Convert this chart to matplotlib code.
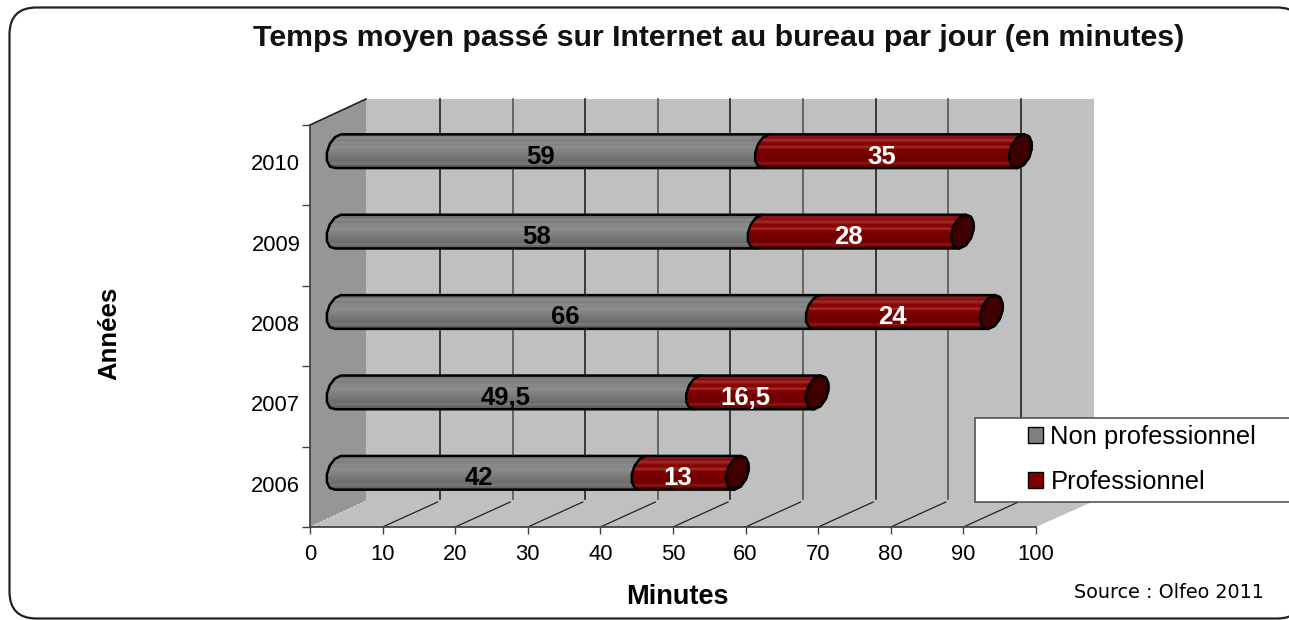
import matplotlib
matplotlib.use("Agg")
import matplotlib.pyplot as plt
import numpy as np
from matplotlib.patches import FancyBboxPatch, Patch, PathPatch, Polygon, Rectangle
from matplotlib.path import Path
from matplotlib.transforms import Affine2D, ScaledTranslation

plt.rcParams["font.family"] = "Liberation Sans"

years = ["2006", "2007", "2008", "2009", "2010"]
non_pro = [42, 49.5, 66, 58, 59]
pro = [13, 16.5, 24, 28, 35]
non_pro_labels = ["42", "49,5", "66", "58", "59"]
pro_labels = ["13", "16,5", "24", "28", "35"]
x_ticks = [0, 10, 20, 30, 40, 50, 60, 70, 80, 90, 100]

W, H = 1289, 620
# front plane of the fake 3d box, in pixels
LEFT, RIGHT, TOP, BOTTOM = 310, 1036, 125, 527
DEPTH_X, DEPTH_Y = 56, 26

fig = plt.figure(figsize=(W / 100, H / 100), dpi=100)
px = Affine2D().scale(1 / W, -1 / H).translate(0, 1) + fig.transFigure
ax = fig.add_axes([LEFT / W, 1 - BOTTOM / H, (RIGHT - LEFT) / W, (BOTTOM - TOP) / H])
ax.set_xlim(0, 100)
ax.set_ylim(0, len(years))
ax.patch.set_visible(False)

ux = 100 / (RIGHT - LEFT)
uy = len(years) / (BOTTOM - TOP)
dx, dy = DEPTH_X * ux, DEPTH_Y * uy
n = len(years)

# outer rounded border
fig.add_artist(FancyBboxPatch((9.5, 7.5), 1294.5, 611, boxstyle="round,pad=0,rounding_size=27",
                              transform=px, fc="white", ec="#222222", lw=1.6, zorder=-4))

# walls and floor
ax.add_patch(Polygon([(0, 0), (100, 0), (100 + dx + 0.3, dy), (dx, dy)], fc="#c0c0c0", ec="none", clip_on=False, zorder=1))
ax.add_patch(Rectangle((dx, dy), 100.3, n, fc="#c0c0c0", ec="none", clip_on=False, zorder=1))
ax.add_patch(Polygon([(0, 0), (dx, dy), (dx, n + dy), (0, n)], fc="#969696", ec="none", clip_on=False, zorder=1.1))
ax.plot([0, dx], [n, n + dy], color="#222222", lw=1.2, clip_on=False, zorder=2)
ax.plot([0, dx], [0, dy], color="#d8d8d8", lw=1, ls=":", clip_on=False, zorder=2)

# grid
for i, v in enumerate(x_ticks[1:-1]):
    col = "#222222" if i % 2 == 0 else "#555555"
    ax.plot([v + dx + 0.2, v + dx + 0.2], [dy + 2 * uy, n + dy], color=col, lw=1.2, clip_on=False, zorder=2)
    ax.plot([v, v + dx - 1 * ux], [0, dy - 1 * uy], color="#222222", lw=0.9, clip_on=False, zorder=2)


def cap_points(xc, yc, t):
    # section of the cylinder seen obliquely, given in pixels
    px_x = 11.5 * np.cos(t)
    px_y = 5.5 * np.cos(t) + 16 * np.sin(t)
    return np.column_stack([xc + px_x * ux, yc + px_y * uy])


def bar_outline(x0, x1, yc):
    t_left = np.linspace(np.pi * 0.42, np.pi * 1.42, 7)
    t_right = np.linspace(-np.pi * 0.58, np.pi * 0.42, 7)
    return np.vstack([cap_points(x0, yc, t_left), cap_points(x1, yc, t_right)])


def draw_bar(x0, x1, yc, shades, cap_col, z):
    xc0, xc1 = x0 + dx / 2, x1 + dx / 2
    yy = yc + dy / 2 + 1 * uy
    pts = bar_outline(xc0, xc1, yy)
    path = Path(np.vstack([pts, pts[:1]]), closed=True)
    half = 18 * uy
    im = ax.imshow(np.array(shades)[:, None, :], extent=(xc0 - 14 * ux, xc1 + 14 * ux, yy - half, yy + half),
                   aspect="auto", interpolation="bilinear", zorder=z, clip_on=True)
    clip = PathPatch(path, transform=ax.transData, fc="none", ec="none")
    ax.add_patch(clip)
    im.set_clip_path(clip)
    clip.set_clip_on(False)
    ax.add_patch(PathPatch(path, fc="none", ec="black", lw=1.8, clip_on=False, zorder=z + 0.1))
    if cap_col:
        cap = cap_points(xc1, yy, np.linspace(0, 2 * np.pi, 11)[:-1])
        ax.add_patch(Polygon(cap, fc=cap_col, ec="black", lw=1.8, clip_on=False, zorder=z + 0.2))


def rgb(h):
    return [int(h[i:i + 2], 16) / 255 for i in (1, 3, 5)]


grey_shades = [rgb(c) for c in ["#6a6a6a", "#757575", "#8a8a8a", "#7c7c7c", "#8c8c8c", "#848484", "#8e8e8e",
                                "#868686", "#828282", "#7c7c7c", "#767676", "#727272", "#6c6c6c", "#7a7a7a",
                                "#626262", "#5c5c5c"]]
red_shades = [rgb(c) for c in ["#800000", "#8c1a1a", "#8a0c0c", "#a03030", "#8a0808", "#880000", "#a03030",
                               "#800000", "#7c0000", "#780000", "#740000", "#720000", "#700000", "#8a1a1a",
                               "#6c0000", "#680000"]]

# labels sit a bit left of and below the bar centre
lab_dx = dx / 2 - 12 * ux
lab_dy = dy / 2 - 4.5 * uy
for i in range(n):
    yc = i + 0.5
    draw_bar(0, non_pro[i], yc, grey_shades, None, 3 + i)
    draw_bar(non_pro[i], non_pro[i] + pro[i], yc, red_shades, "#400000", 3.4 + i)
    ax.text(non_pro[i] / 2 + lab_dx, yc + lab_dy, non_pro_labels[i], ha="center", va="center",
            fontsize=18.5, fontweight="bold", color="black", zorder=4 + i)
    ax.text(non_pro[i] + pro[i] / 2 + lab_dx, yc + lab_dy, pro_labels[i], ha="center", va="center",
            fontsize=18.5, fontweight="bold", color="white", zorder=4 + i)

# axes
ax.set_xlim(0, 100)
ax.set_ylim(0, n)
for s in ["top", "right"]:
    ax.spines[s].set_visible(False)
for s in ["left", "bottom"]:
    ax.spines[s].set_color("#444444")
    ax.spines[s].set_linewidth(1.3)
    ax.spines[s].set_zorder(2.5)
ax.set_xticks(x_ticks)
ax.set_yticks(np.arange(n) + 0.5)
ax.set_yticklabels(years)
ax.set_yticks(np.arange(n + 1), minor=True)
ax.tick_params(axis="x", length=5, width=1, color="#444444", labelsize=15.8, pad=7.2)
ax.tick_params(axis="y", which="major", length=0, labelsize=15.8, pad=7)
ax.tick_params(axis="y", which="minor", length=6, width=1, color="#444444")
up = ScaledTranslation(0, 3 / 100, fig.dpi_scale_trans)
for lab in ax.get_yticklabels():
    lab.set_transform(lab.get_transform() + up)

fig.text(718.5 / W, 1 - 38 / H, "Temps moyen passé sur Internet au bureau par jour (en minutes)",
         ha="center", va="center", fontsize=21.8, fontweight="bold", color="#111111")
fig.text(677 / W, 1 - 597 / H, "Minutes", ha="center", va="center", fontsize=19.5, fontweight="bold")
fig.text(109 / W, 1 - 333 / H, "Années", ha="center", va="center", rotation=90, fontsize=18.5, fontweight="bold")
fig.text(1169 / W, 1 - 592 / H, "Source : Olfeo 2011", ha="center", va="center", fontsize=13.8, family="DejaVu Sans")

# legend
fig.add_artist(Rectangle((975, 418), 330, 84, transform=px, fc="white", ec="#555555", lw=1.2, zorder=5))
handles = [Patch(fc="#808080", ec="black"), Patch(fc="#800000", ec="black")]
leg = fig.legend(handles, ["Non professionnel", "Professionnel"], loc="center left",
                 bbox_to_anchor=(1028 / W, 1 - 459.5 / H), frameon=False, fontsize=18.4,
                 handlelength=0.58, handleheight=0.58, handletextpad=0.3, labelspacing=0.8, borderpad=0,
                 borderaxespad=0)
leg.set_zorder(6)

fig.savefig("out.png", dpi=100)
